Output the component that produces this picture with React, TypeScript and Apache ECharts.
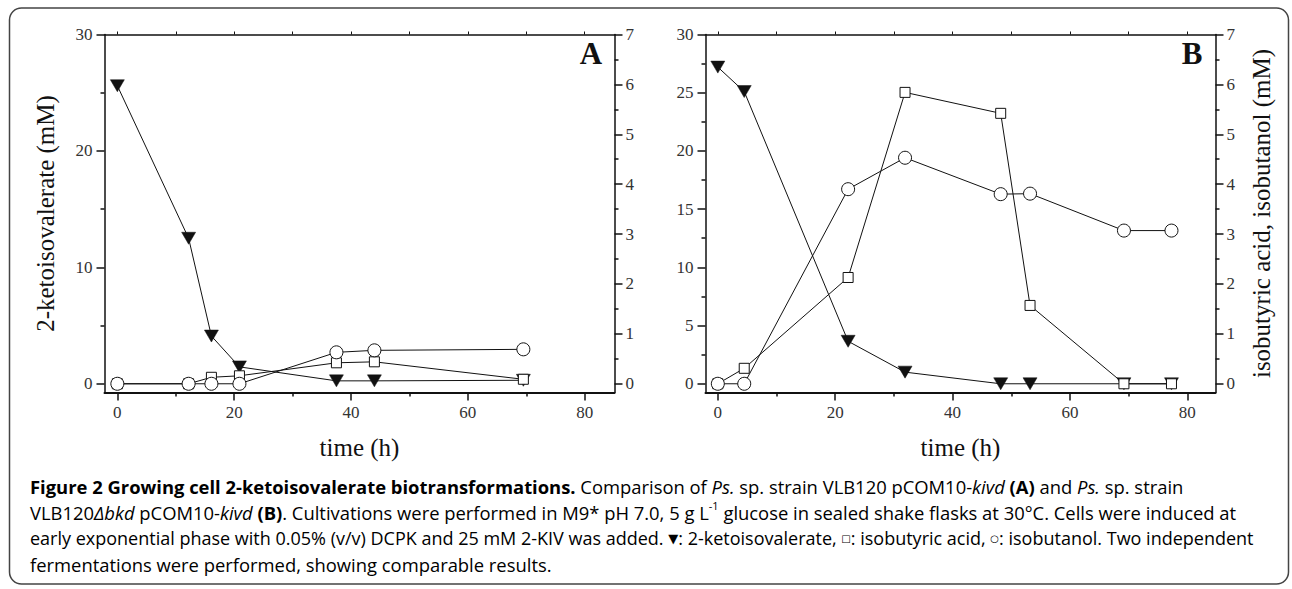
import React, { useEffect, useRef } from "react";
import * as echarts from "echarts";

// ---- Data ----
const timeA = [0, 12.2, 16.1, 20.9, 37.5, 44.0, 69.5];
const kivA = [25.6, 12.5, 4.1, 1.45, 0.25, 0.25, 0.3];
const acidA = [0, 0, 0.13, 0.16, 0.42, 0.44, 0.09];
const butanolA = [0, 0, 0, 0, 0.63, 0.67, 0.69];

const timeB = [0, 4.5, 22.2, 31.9, 48.2, 53.2, 69.2, 77.3];
const kivB = [27.2, 25.1, 3.65, 1.0, 0, 0, 0, 0];
const acidB = [0, 0.31, 2.13, 5.84, 5.42, 1.57, 0, 0];
const butanolB = [0, 0, 3.9, 4.53, 3.8, 3.81, 3.07, 3.07];

// ---- Tick values ----
const xMajor = [0, 20, 40, 60, 80];
const xMinor = [10, 30, 50, 70];
const xTop = [0, 10, 20, 30, 40, 50, 60, 70, 80];
const leftMajorA = [0, 10, 20, 30];
const leftMinorA = [5, 15, 25];
const leftMajorB = [0, 5, 10, 15, 20, 25, 30];
const leftMinorB = [2.5, 7.5, 12.5, 17.5, 22.5, 27.5];
const rightMajor = [0, 1, 2, 3, 4, 5, 6, 7];
const rightMinor = [0.5, 1.5, 2.5, 3.5, 4.5, 5.5, 6.5];

const SERIF = "Liberation Serif";
const SANS = "Open Sans";
const INK = "#111";
const LABEL = "#333";
const NAME_SIZE = 25;

const pairs = (xs: number[], ys: number[]) => xs.map((x, i) => [x, ys[i]]);

const tickLabel = {
  fontFamily: SERIF,
  fontSize: 17,
  color: LABEL,
  formatter: "{s|{value}}",
  rich: { s: { fontFamily: SERIF, fontSize: 17, color: LABEL } },
};
const nameStyle = { fontFamily: SERIF, fontSize: NAME_SIZE, color: INK };

function xAxes(grid: number, min: number, max: number) {
  const base = {
    type: "value",
    gridIndex: grid,
    min,
    max,
    splitLine: { show: false },
  };
  return [
    {
      ...base,
      position: "bottom",
      axisLine: { show: true, onZero: false, lineStyle: { color: INK, width: 2 } },
      axisTick: { show: true, customValues: xMajor, length: 8, lineStyle: { color: INK, width: 1.5 } },
      axisLabel: { customValues: xMajor, margin: 11, ...tickLabel },
      name: "time (h)",
      nameLocation: "middle",
      nameGap: 42,
      nameTextStyle: nameStyle,
    },
    {
      ...base,
      position: "bottom",
      axisLine: { show: false, onZero: false },
      axisTick: { show: true, customValues: xMinor, length: 4, lineStyle: { color: INK, width: 1.5 } },
      axisLabel: { show: false },
    },
    {
      ...base,
      position: "top",
      axisLine: { show: true, onZero: false, lineStyle: { color: INK, width: 1.5 } },
      axisTick: { show: true, customValues: xTop, length: 3, lineStyle: { color: INK, width: 1 } },
      axisLabel: { show: false },
    },
  ];
}

function yAxes(
  grid: number,
  leftMin: number,
  leftMajor: number[],
  leftMinor: number[],
  leftName: string,
  rightName: string
) {
  const rightMin = (leftMin * 7) / 30;
  return [
    {
      type: "value",
      gridIndex: grid,
      position: "left",
      min: leftMin,
      max: 30,
      splitLine: { show: false },
      axisLine: { show: true, onZero: false, lineStyle: { color: INK, width: 1.5 } },
      axisTick: { show: true, customValues: leftMajor, length: 8, lineStyle: { color: INK, width: 1.5 } },
      axisLabel: { customValues: leftMajor, margin: 12, ...tickLabel },
      name: leftName,
      nameLocation: "middle",
      nameRotate: 90,
      nameGap: 47,
      nameTextStyle: nameStyle,
    },
    {
      type: "value",
      gridIndex: grid,
      position: "left",
      min: leftMin,
      max: 30,
      splitLine: { show: false },
      axisLine: { show: false, onZero: false },
      axisTick: { show: true, customValues: leftMinor, length: 4, lineStyle: { color: INK, width: 1.5 } },
      axisLabel: { show: false },
    },
    {
      type: "value",
      gridIndex: grid,
      position: "right",
      min: rightMin,
      max: 7,
      splitLine: { show: false },
      axisLine: { show: true, onZero: false, lineStyle: { color: INK, width: 1.5 } },
      axisTick: { show: true, customValues: rightMajor, length: 8, lineStyle: { color: INK, width: 1.5 } },
      axisLabel: { customValues: rightMajor, margin: 11, ...tickLabel },
      name: rightName,
      nameLocation: "middle",
      nameRotate: 90,
      nameGap: 33,
      nameTextStyle: nameStyle,
    },
    {
      type: "value",
      gridIndex: grid,
      position: "right",
      min: rightMin,
      max: 7,
      splitLine: { show: false },
      axisLine: { show: false, onZero: false },
      axisTick: { show: true, customValues: rightMinor, length: 4, lineStyle: { color: INK, width: 1.5 } },
      axisLabel: { show: false },
    },
  ];
}

function triSeries(xIdx: number, yIdx: number, data: number[][]) {
  return {
    type: "line",
    xAxisIndex: xIdx,
    yAxisIndex: yIdx,
    data,
    symbol: "triangle",
    symbolRotate: 180,
    symbolSize: [14, 12],
    itemStyle: { color: INK, borderColor: INK, borderWidth: 0.5 },
    lineStyle: { color: INK, width: 1 },
    showAllSymbol: true,
  };
}
function openSeries(xIdx: number, yIdx: number, data: number[][], symbol: string, size: number) {
  return {
    type: "line",
    xAxisIndex: xIdx,
    yAxisIndex: yIdx,
    data,
    symbol,
    symbolSize: size,
    itemStyle: { color: "#fff", borderColor: INK, borderWidth: 1 },
    lineStyle: { color: INK, width: 1 },
    showAllSymbol: true,
  };
}

const captionLines = [
  "{b|Figure 2 Growing cell 2-ketoisovalerate biotransformations. }{n|Comparison of }{i|Ps. }{n|sp. strain VLB120 pCOM10-}{i|kivd }{b|(A) }{n|and }{i|Ps. }{n|sp. strain}",
  "{n|VLB120}{i|\u0394bkd }{n|pCOM10-}{i|kivd }{b|(B)}{n|. Cultivations were performed in M9* pH 7.0, 5 g L}{sup|-1}{n|\u00a0glucose in sealed shake flasks at 30°C. Cells were induced at}",
  "{m|early exponential phase with 0.05% (v/v) DCPK and 25 mM 2-KIV was added. }{tri|\u25BC}{m|: 2-ketoisovalerate, }{sym|\u25A1}{m|: isobutyric acid, }{sym|\u25CB}{m|: isobutanol. Two independent}",
  "{n|fermentations were performed, showing comparable results.}",
];
const captionY = [486, 512, 538, 564];

export default function App() {
  const ref = useRef<HTMLDivElement>(null);
  useEffect(() => {
    if (!ref.current) return;
    const chart = echarts.init(ref.current, undefined, { renderer: "svg" });
    const CS = 18.4;
    const rich = {
      n: { fontFamily: SANS, fontSize: CS, color: "#222", lineHeight: 24 },
      m: { fontFamily: SANS, fontSize: 18.0, color: "#222", lineHeight: 24 },
      i: { fontFamily: SANS, fontSize: CS, fontStyle: "italic", color: "#222", lineHeight: 24 },
      b: { fontFamily: SANS, fontSize: CS, fontWeight: "bold", color: "#222", lineHeight: 24 },
      sup: { fontFamily: SANS, fontSize: 11, color: "#222", lineHeight: 13, verticalAlign: "top" },
      tri: { fontFamily: "DejaVu Sans", fontSize: 13, color: "#222", lineHeight: 24 },
      sym: { fontFamily: "DejaVu Sans", fontSize: 10, color: "#222", lineHeight: 24 },
    };
    const option: any = {
      animation: false,
      backgroundColor: "#fff",
      textStyle: { fontFamily: SERIF },
      grid: [
        { left: 104.5, top: 34.5, width: 510, height: 358, containLabel: false },
        { left: 705.5, top: 34.5, width: 510, height: 358, containLabel: false },
      ],
      xAxis: [...xAxes(0, -2.2, 85.1), ...xAxes(1, -2.1, 84.8)],
      yAxis: [
        ...yAxes(0, -0.75, leftMajorA, leftMinorA, "2-ketoisovalerate (mM)", ""),
        ...yAxes(1, -0.75, leftMajorB, leftMinorB, "", "isobutyric acid, isobutanol (mM)"),
      ],
      series: [
        triSeries(0, 0, pairs(timeA, kivA)),
        openSeries(0, 2, pairs(timeA, acidA), "rect", 10),
        openSeries(0, 2, pairs(timeA, butanolA), "circle", 13),
        triSeries(3, 4, pairs(timeB, kivB)),
        openSeries(3, 6, pairs(timeB, acidB), "rect", 10),
        openSeries(3, 6, pairs(timeB, butanolB), "circle", 13),
      ],
      graphic: [
        {
          type: "rect",
          shape: { x: 9.5, y: 8, width: 1279, height: 576, r: 12 },
          style: { fill: "none", stroke: "#444", lineWidth: 1.5 },
          z: -1,
        },
        {
          type: "text",
          x: 591,
          y: 53,
          style: {
            text: "A",
            fontFamily: SERIF,
            fontWeight: "bold",
            fontSize: 31,
            fill: INK,
            align: "center",
            verticalAlign: "middle",
          },
        },
        {
          type: "text",
          x: 1192,
          y: 53,
          style: {
            text: "B",
            fontFamily: SERIF,
            fontWeight: "bold",
            fontSize: 31,
            fill: INK,
            align: "center",
            verticalAlign: "middle",
          },
        },
        ...captionLines.map((t, k) => ({
          type: "text",
          x: 30,
          y: captionY[k],
          style: { text: t, rich, align: "left", verticalAlign: "middle" },
        })),
      ],
    };
    chart.setOption(option);
    return () => chart.dispose();
  }, []);
  return (
    <div
      ref={ref}
      style={{ position: "absolute", left: 0, top: 0, width: 1292, height: 589, background: "#fff" }}
    />
  );
}
